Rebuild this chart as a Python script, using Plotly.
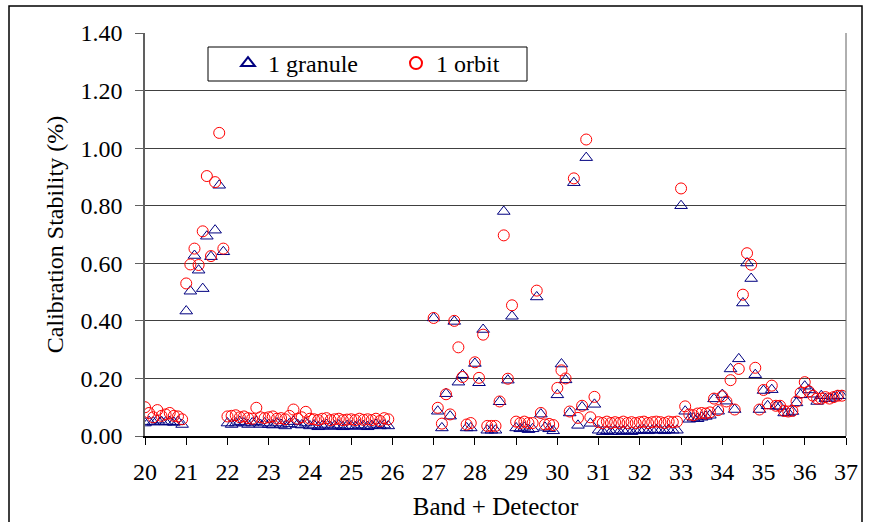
import plotly.graph_objects as go

bands = [20, 21, 22, 23, 24, 25, 27, 28, 29, 30, 31, 32, 33, 34, 35, 36]

g20 = [0.045, 0.050, 0.048, 0.055, 0.050, 0.048, 0.050, 0.047, 0.050, 0.040]
o20 = [0.100, 0.080, 0.065, 0.090, 0.070, 0.075, 0.080, 0.070, 0.068, 0.058]
g21 = [0.434, 0.503, 0.627, 0.576, 0.512, 0.694, 0.623, 0.715, 0.871, 0.640]
o21 = [0.530, 0.596, 0.651, 0.594, 0.711, 0.903, 0.625, 0.882, 1.053, 0.651]
g22 = [0.045, 0.040, 0.045, 0.050, 0.045, 0.040, 0.045, 0.050, 0.040, 0.045]
o22 = [0.068, 0.070, 0.072, 0.065, 0.068, 0.062, 0.060, 0.098, 0.065, 0.062]
g23 = [0.040, 0.038, 0.045, 0.040, 0.035, 0.042, 0.050, 0.040, 0.038, 0.045]
o23 = [0.065, 0.068, 0.060, 0.062, 0.058, 0.070, 0.092, 0.060, 0.065, 0.084]
g24 = [0.035, 0.038, 0.032, 0.035, 0.040, 0.033, 0.035, 0.038, 0.032, 0.036]
o24 = [0.060, 0.058, 0.055, 0.060, 0.062, 0.055, 0.058, 0.060, 0.055, 0.057]
g25 = [0.035, 0.033, 0.038, 0.035, 0.032, 0.036, 0.040, 0.035, 0.038, 0.035]
o25 = [0.058, 0.055, 0.060, 0.056, 0.058, 0.055, 0.060, 0.052, 0.062, 0.058]
g27 = [0.410, 0.086, 0.028, 0.147, 0.069, 0.398, 0.187, 0.213, 0.028, 0.028]
o27 = [0.410, 0.098, 0.043, 0.145, 0.075, 0.400, 0.308, 0.205, 0.040, 0.045]
g28 = [0.252, 0.185, 0.370, 0.020, 0.020, 0.020, 0.119, 0.780, 0.194, 0.416]
o28 = [0.256, 0.202, 0.352, 0.035, 0.035, 0.035, 0.120, 0.697, 0.199, 0.454]
g29 = [0.028, 0.025, 0.030, 0.022, 0.025, 0.483, 0.076, 0.030, 0.025, 0.018]
o29 = [0.050, 0.045, 0.050, 0.045, 0.045, 0.505, 0.080, 0.040, 0.042, 0.038]
g30 = [0.143, 0.250, 0.195, 0.080, 0.880, 0.037, 0.101, 0.967, 0.044, 0.110]
o30 = [0.167, 0.228, 0.200, 0.085, 0.895, 0.063, 0.105, 1.030, 0.065, 0.136]
g31 = [0.020, 0.015, 0.018, 0.015, 0.020, 0.015, 0.018, 0.020, 0.015, 0.018]
o31 = [0.048, 0.045, 0.050, 0.045, 0.048, 0.045, 0.050, 0.045, 0.048, 0.045]
g32 = [0.020, 0.022, 0.018, 0.020, 0.022, 0.020, 0.018, 0.022, 0.020, 0.020]
o32 = [0.048, 0.050, 0.045, 0.048, 0.050, 0.048, 0.045, 0.050, 0.048, 0.050]
g33 = [0.800, 0.086, 0.058, 0.062, 0.060, 0.065, 0.068, 0.072, 0.129, 0.086]
o33 = [0.860, 0.103, 0.075, 0.072, 0.078, 0.080, 0.078, 0.082, 0.130, 0.090]
g34 = [0.144, 0.121, 0.233, 0.092, 0.268, 0.462, 0.601, 0.547, 0.213, 0.092]
o34 = [0.138, 0.120, 0.194, 0.092, 0.233, 0.491, 0.635, 0.595, 0.237, 0.092]
g35 = [0.158, 0.105, 0.161, 0.103, 0.103, 0.080, 0.080, 0.085, 0.115, 0.143]
o35 = [0.160, 0.113, 0.175, 0.105, 0.105, 0.087, 0.085, 0.087, 0.120, 0.150]
g36 = [0.173, 0.160, 0.145, 0.120, 0.140, 0.130, 0.130, 0.135, 0.140, 0.140]
o36 = [0.187, 0.155, 0.140, 0.130, 0.130, 0.135, 0.130, 0.135, 0.140, 0.140]

granule = [g20, g21, g22, g23, g24, g25, g27, g28, g29, g30, g31, g32, g33, g34, g35, g36]
orbit = [o20, o21, o22, o23, o24, o25, o27, o28, o29, o30, o31, o32, o33, o34, o35, o36]

x_tick_labels = [str(v) for v in range(20, 38)]
y_tick_vals = [0.0, 0.2, 0.4, 0.6, 0.8, 1.0, 1.2, 1.4]

xs, gy, oy = [], [], []
for b, gl, ol in zip(bands, granule, orbit):
    for d in range(10):
        xs.append(b + d / 10)
        gy.append(gl[d])
        oy.append(ol[d])

FONT = "'Liberation Serif', 'Times New Roman', Times, serif"

fig = go.Figure()
fig.add_trace(go.Scatter(
    x=xs, y=gy, mode="markers", name="1 granule",
    marker=dict(symbol="triangle-up-open", size=11, color="#000080", line=dict(width=1)),
))
fig.add_trace(go.Scatter(
    x=xs, y=oy, mode="markers", name="1 orbit",
    marker=dict(symbol="circle-open", size=11, color="#FF0000", line=dict(width=1)),
))

# plot area geometry (pixels)
L, R, T, B = 145, 846, 33, 436
W, H = 870, 522
pw, ph = R - L, B - T

def px(xp):
    return (xp - L) / pw

def py(yp):
    return (B - yp) / ph

fig.update_layout(
    width=W, height=H,
    margin=dict(l=L, r=W - R, t=T, b=H - B, pad=0, autoexpand=False),
    paper_bgcolor="white", plot_bgcolor="white",
    font=dict(family=FONT, size=23, color="black"),
    showlegend=True,
    legend=dict(
        orientation="h", x=px(228), y=py(41), xanchor="left", yanchor="top",
        borderwidth=0, bgcolor="rgba(0,0,0,0)",
        font=dict(family=FONT, size=24), entrywidth=123, entrywidthmode="pixels",
        itemsizing="constant", tracegroupgap=0,
    ),
    xaxis=dict(
        range=[20, 37], tickmode="array", tickvals=list(range(20, 38)), ticktext=x_tick_labels,
        showgrid=False, zeroline=False, showline=True, linecolor="black", linewidth=1.5,
        ticks="outside", ticklen=7, tickcolor="black", tickwidth=1, automargin=False,
        tickfont=dict(family=FONT, size=24), ticklabelstandoff=6,
        title=dict(text="Band + Detector", font=dict(family=FONT, size=25), standoff=14),
    ),
    yaxis=dict(
        range=[0, 1.4], tickmode="array", tickvals=y_tick_vals, tickformat=".2f",
        showgrid=True, gridcolor="#404040", gridwidth=1, zeroline=False,
        showline=True, linecolor="#606060", linewidth=1.5, automargin=False,
        ticks="outside", ticklen=8, tickcolor="#606060", tickwidth=1,
        tickfont=dict(family=FONT, size=24), ticklabelstandoff=8,
        title=dict(text="Calibration Stability (%)", font=dict(family=FONT, size=24), standoff=10),
    ),
    shapes=[
        dict(type="line", xref="paper", yref="paper", x0=1, x1=1, y0=0, y1=1,
             line=dict(color="#606060", width=1)),
        dict(type="rect", xref="paper", yref="paper", x0=px(9), x1=px(862), y0=py(540), y1=py(6),
             line=dict(color="black", width=1.5), fillcolor="rgba(0,0,0,0)", layer="below"),
        dict(type="rect", xref="paper", yref="paper", x0=px(208), x1=px(527), y0=py(81), y1=py(47),
             line=dict(color="black", width=1), fillcolor="white", layer="below"),
    ],
)

fig.write_html("out.html")
